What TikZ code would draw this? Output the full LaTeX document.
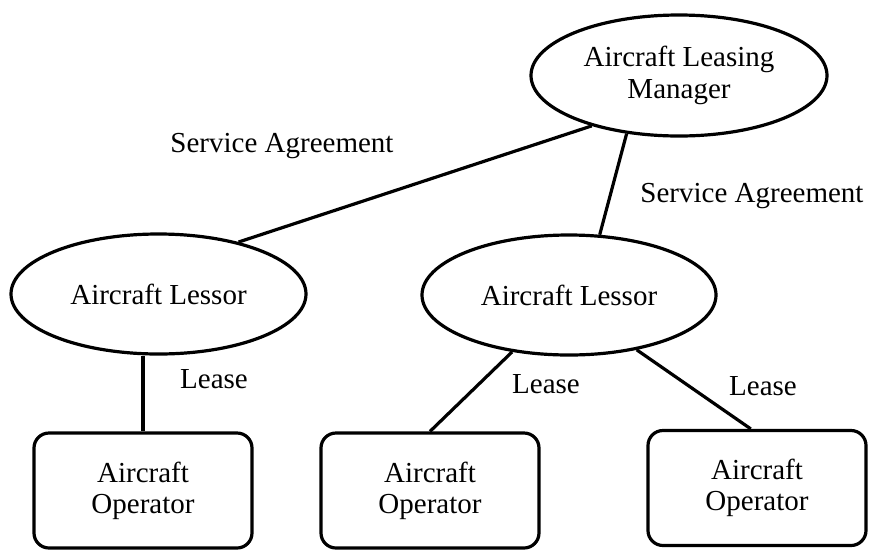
\documentclass[tikz,border=0pt]{standalone}
\usepackage{fontspec}
\setmainfont{Liberation Serif}
\usetikzlibrary{shapes.geometric}

\begin{document}
\begin{tikzpicture}[x=1pt,y=-1pt,
  party/.style={draw=black, line width=3.2pt, ellipse, inner sep=0pt, align=center,
    font=\fontsize{29}{32}\selectfont},
  operator/.style={draw=black, line width=3.2pt, rounded corners=15pt, inner sep=0pt,
    minimum width=218pt, minimum height=115pt, align=center,
    font=\fontsize{29}{31}\selectfont},
  link/.style={black, line width=3.2pt},
  tag/.style={anchor=base, font=\fontsize{29}{31}\selectfont}]
\useasboundingbox (0,0) rectangle (870,550);

\node[party, minimum width=296pt, minimum height=121pt] (mgr) at (679,75.5) {Aircraft Leasing\\Manager};
\node[party, minimum width=295pt, minimum height=120pt] (lessorL) at (158.5,294) {Aircraft Lessor};
\node[party, minimum width=294pt, minimum height=120pt] (lessorM) at (569,295) {Aircraft Lessor};

\node[operator] (opL) at (143,490.5) {Aircraft\\Operator};
\node[operator] (opM) at (430,490.5) {Aircraft\\Operator};
\node[operator] (opR) at (757,488) {Aircraft\\Operator};

\draw[link] (mgr.210) -- (lessorL.33);
\draw[link] (mgr.228) -- (lessorM.63);
\draw[link] (opL.north) -- (opL.north |- lessorL.south);
\draw[link] (lessorM.225) -- (opM.north);
\draw[link] (lessorM.321) -- (opR.96);

\node[tag] (svcL) at (282,152) {Service Agreement};
\node[tag] (svcR) at (752,202) {Service Agreement};
\node[tag] (leaseL) at (214,388) {Lease};
\node[tag] (leaseM) at (546,393) {Lease};
\node[tag] (leaseR) at (763,395) {Lease};

\end{tikzpicture}
\end{document}
